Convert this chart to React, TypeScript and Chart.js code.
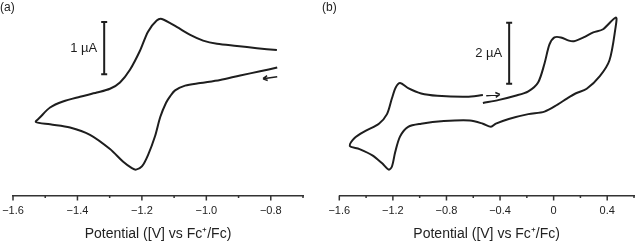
import React, { useEffect, useRef } from "react";
import { Chart, registerables } from "chart.js";

Chart.register(...registerables);

// ---------- Panel (a) data: potential (V vs Fc+/Fc) and current (µA, arbitrary zero) ----------
const potentialA = [
  -0.78, -0.833, -0.895, -0.957, -1.019, -1.066, -1.097, -1.112, -1.125, -1.143, -1.159, -1.181,
  -1.2, -1.218, -1.231, -1.258, -1.299, -1.361, -1.423, -1.485, -1.529,
  -1.516, -1.485, -1.445, -1.392, -1.34, -1.299, -1.268, -1.237, -1.206, -1.181, -1.154, -1.138,
  -1.092, -1.05, -1.01, -0.967, -0.905, -0.843, -0.781,
];
const currentA = [
  1.073, 1.0, 0.922, 0.836, 0.776, 0.727, 0.636, 0.527, 0.4, 0.127, -0.236, -0.6,
  -0.818, -0.878, -0.849, -0.727, -0.485, -0.213, -0.073, -0.013, 0.031,
  0.122, 0.309, 0.424, 0.515, 0.595, 0.667, 0.788, 1.031, 1.394, 1.758, 1.97, 2.0,
  1.849, 1.697, 1.588, 1.527, 1.485, 1.442, 1.406,
];

// ---------- Panel (b) data ----------
const potentialB = [
  -0.528, -0.407, -0.286, -0.189, -0.116, -0.068, -0.031, 0.006, 0.054, 0.114, 0.151, 0.223,
  0.296, 0.369, 0.465,
  0.461, 0.417, 0.345, 0.247, 0.163, 0.102, 0.029, -0.068, -0.189, -0.335, -0.431, -0.468,
  -0.528, -0.625, -0.819, -0.989, -1.086, -1.146, -1.183, -1.207, -1.231, -1.28, -1.353,
  -1.449, -1.522,
  -1.486, -1.401, -1.304, -1.244, -1.207, -1.178, -1.146, -1.086, -0.989, -0.868, -0.649, -0.528,
];
const currentB = [
  0.678, 0.781, 0.916, 1.063, 1.353, 1.978, 2.603, 2.834, 2.834, 2.728, 2.709, 2.834,
  3.0, 3.103, 3.491,
  3.125, 2.084, 1.563, 1.147, 0.991, 0.834, 0.625, 0.397, 0.313, 0.156, 0.0, -0.1,
  0.0, 0.103, 0.084, 0.0, -0.103, -0.416, -0.938, -1.406, -1.509, -1.303, -1.041,
  -0.834, -0.728,
  -0.469, -0.228, 0.0, 0.313, 0.834, 1.197, 1.334, 1.166, 0.991, 0.916, 0.884, 0.938,
];

// ---------- Axis ticks ----------
const tickValuesA = [-1.6, -1.4, -1.2, -1.0, -0.8];
const tickLabelsA = ["\u22121.6", "\u22121.4", "\u22121.2", "\u22121.0", "\u22120.8"];
const tickValuesB = [-1.6, -1.2, -0.8, -0.4, 0, 0.4];
const tickLabelsB = ["\u22121.6", "\u22121.2", "\u22120.8", "\u22120.4", "0", "0.4"];

const axisTitle = "Potential ([V] vs Fc\u207A/Fc)";

// ---------- Annotations (data units) ----------
const scaleBarA = [-1.317, 0.945, 1.945]; // potential, from, to (1 µA)
const scaleBarB = [-0.332, 1.3125, 3.3125]; // 2 µA
const scaleLabelA = "1 \u00B5A";
const scaleLabelB = "2 \u00B5A";
const arrowA = [-0.78, 0.896, -0.824, 0.86];
const arrowB = [-0.503, 0.916, -0.401, 0.959];

const FONT = "'Liberation Sans', Arial, Helvetica, sans-serif";
const INK = "#1e1e1e";

type PanelCfg = {
  potential: number[];
  current: number[];
  xMin: number;
  xMax: number;
  step: number;
  yMin: number;
  yMax: number;
  tickValues: number[];
  tickLabels: string[];
  bar: number[];
  barLabel: string;
  arrow: number[];
  padLeft: number;
  padRight: number;
};

function labelFor(cfg: PanelCfg, v: number): string {
  const i = cfg.tickValues.findIndex((t) => Math.abs(t - v) < 1e-6);
  return i >= 0 ? cfg.tickLabels[i] : "";
}

function makePlugin(cfg: PanelCfg) {
  return {
    id: "cvAnnot",
    afterDraw(chart: any) {
      const { ctx, scales } = chart;
      const x = scales.x;
      const y = scales.y;
      const bottom = chart.chartArea.bottom;
      ctx.save();
      // tick marks pointing down
      ctx.strokeStyle = "#333";
      ctx.lineWidth = 1.5;
      x.ticks.forEach((t: any) => {
        const px = x.getPixelForValue(t.value);
        const major = labelFor(cfg, t.value) !== "";
        ctx.beginPath();
        ctx.moveTo(px, bottom);
        ctx.lineTo(px, bottom + (major ? 5 : 2.5));
        ctx.stroke();
      });
      // scale bar
      const bx = x.getPixelForValue(cfg.bar[0]);
      const by1 = y.getPixelForValue(cfg.bar[1]);
      const by2 = y.getPixelForValue(cfg.bar[2]);
      ctx.strokeStyle = INK;
      ctx.lineWidth = 2;
      ctx.beginPath();
      ctx.moveTo(bx, by1);
      ctx.lineTo(bx, by2);
      ctx.moveTo(bx - 3, by1);
      ctx.lineTo(bx + 3, by1);
      ctx.moveTo(bx - 3, by2);
      ctx.lineTo(bx + 3, by2);
      ctx.stroke();
      ctx.fillStyle = INK;
      ctx.font = `13px ${FONT}`;
      ctx.textAlign = "right";
      ctx.textBaseline = "middle";
      ctx.fillText(cfg.barLabel, bx - 7, (by1 + by2) / 2);
      // arrow
      const ax1 = x.getPixelForValue(cfg.arrow[0]);
      const ay1 = y.getPixelForValue(cfg.arrow[1]);
      const ax2 = x.getPixelForValue(cfg.arrow[2]);
      const ay2 = y.getPixelForValue(cfg.arrow[3]);
      const ang = Math.atan2(ay2 - ay1, ax2 - ax1);
      ctx.lineWidth = 1.5;
      ctx.beginPath();
      ctx.moveTo(ax1, ay1);
      ctx.lineTo(ax2, ay2);
      ctx.moveTo(ax2, ay2);
      ctx.lineTo(ax2 - 5 * Math.cos(ang - 0.5), ay2 - 5 * Math.sin(ang - 0.5));
      ctx.moveTo(ax2, ay2);
      ctx.lineTo(ax2 - 5 * Math.cos(ang + 0.5), ay2 - 5 * Math.sin(ang + 0.5));
      ctx.stroke();
      ctx.restore();
    },
  };
}

function Panel({ cfg, left, width }: { cfg: PanelCfg; left: number; width: number }) {
  const ref = useRef<HTMLCanvasElement | null>(null);
  useEffect(() => {
    if (!ref.current) return;
    const data = cfg.potential.map((v, i) => ({ x: v, y: cfg.current[i] }));
    const chart = new Chart(ref.current, {
      type: "scatter",
      data: {
        datasets: [
          {
            data,
            showLine: true,
            borderColor: INK,
            borderWidth: 2,
            pointRadius: 0,
            tension: 0.3,
            fill: false,
          },
        ],
      },
      options: {
        animation: false,
        responsive: false,
        maintainAspectRatio: false,
        layout: { padding: { left: cfg.padLeft, right: cfg.padRight, top: 0, bottom: 0 } },
        plugins: { legend: { display: false }, tooltip: { enabled: false } },
        scales: {
          x: {
            type: "linear",
            min: cfg.xMin,
            max: cfg.xMax,
            grid: { display: false, drawTicks: false },
            border: { display: true, color: "#333", width: 1.5 },
            ticks: {
              stepSize: cfg.step,
              autoSkip: false,
              maxRotation: 0,
              minRotation: 0,
              padding: 10,
              color: "#222",
              font: { family: FONT, size: 11, lineHeight: 1 },
              callback: (v: any) => labelFor(cfg, Number(v)),
            },
            title: {
              display: true,
              text: axisTitle,
              color: "#222",
              font: { family: FONT, size: 14, lineHeight: 1 },
              padding: { top: 0.5, bottom: 11 },
            },
          },
          y: { type: "linear", display: false, min: cfg.yMin, max: cfg.yMax },
        },
      },
      plugins: [makePlugin(cfg)],
    });
    return () => chart.destroy();
  }, [cfg]);
  return (
    <canvas
      ref={ref}
      width={width}
      height={252}
      style={{ position: "absolute", left, top: 0, width, height: 252 }}
    />
  );
}

const cfgA: PanelCfg = {
  potential: potentialA,
  current: currentA,
  xMin: -1.6,
  xMax: -0.7,
  step: 0.1,
  yMin: -75.5 / 55,
  yMax: 130 / 55,
  tickValues: tickValuesA,
  tickLabels: tickLabelsA,
  bar: scaleBarA,
  barLabel: scaleLabelA,
  arrow: arrowA,
  padLeft: 33,
  padRight: 19,
};

const cfgB: PanelCfg = {
  potential: potentialB,
  current: currentB,
  xMin: -1.6,
  xMax: 0.6,
  step: 0.2,
  yMin: -75.5 / 32,
  yMax: 130 / 32,
  tickValues: tickValuesB,
  tickLabels: tickLabelsB,
  bar: scaleBarB,
  barLabel: scaleLabelB,
  arrow: arrowB,
  padLeft: 39.3,
  padRight: 2.5,
};

export default function App() {
  const letter: React.CSSProperties = {
    position: "absolute",
    top: 1,
    fontFamily: FONT,
    fontSize: 12,
    lineHeight: "12px",
    color: "#222",
  };
  return (
    <div
      style={{
        position: "fixed",
        left: 0,
        top: 0,
        width: 644,
        height: 252,
        overflow: "hidden",
        background: "#fff",
      }}
    >
      <Panel cfg={cfgA} left={-20} width={342} />
      <Panel cfg={cfgB} left={300} width={344} />
      <span style={{ ...letter, left: 0 }}>(a)</span>
      <span style={{ ...letter, left: 322 }}>(b)</span>
    </div>
  );
}
